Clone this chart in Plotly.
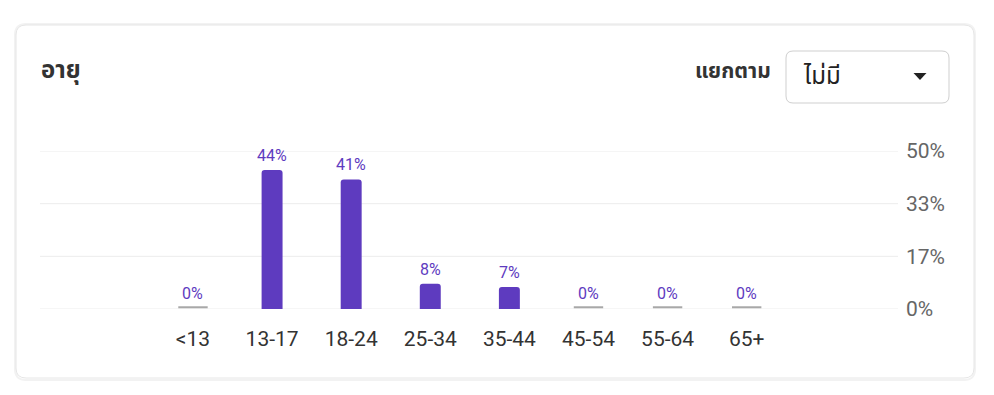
import plotly.graph_objects as go

categories = ["<13", "13-17", "18-24", "25-34", "35-44", "45-54", "55-64", "65+"]
values = [0, 44, 41, 8, 7, 0, 0, 0]
value_labels = ["0%", "44%", "41%", "8%", "7%", "0%", "0%", "0%"]
y_tick_vals = [0, 50 / 3, 100 / 3, 50]
y_tick_text = ["0%", "17%", "33%", "50%"]
title_text = "อายุ"
breakdown_label = "แยกตาม"
dropdown_text = "ไม่มี"

W, H = 994, 395
PURPLE = "#5e3bbf"
FONT = "Roboto, 'Noto Sans Thai', 'Noto Sans', sans-serif"


def px(x):
    return x / W


def py(y):
    return 1 - y / H


def rounded_rect(x0, y0, x1, y1, r):
    rx, ry = r / W, r / H
    X0, X1 = px(x0), px(x1)
    Y0, Y1 = py(y0), py(y1)
    return (
        f"M {X0+rx},{Y0} L {X1-rx},{Y0} Q {X1},{Y0} {X1},{Y0-ry} "
        f"L {X1},{Y1+ry} Q {X1},{Y1} {X1-rx},{Y1} "
        f"L {X0+rx},{Y1} Q {X0},{Y1} {X0},{Y1+ry} "
        f"L {X0},{Y0-ry} Q {X0},{Y0} {X0+rx},{Y0} Z"
    )


xs = list(range(len(categories)))
bar_vals = [v if v > 0 else None for v in values]
zero_x = [i for i, v in zip(xs, values) if v == 0]
zero_y = [0.55 for i in zero_x]

fig = go.Figure()
fig.add_trace(go.Bar(
    x=xs, y=bar_vals, width=0.265,
    marker=dict(color=PURPLE, line=dict(width=0), cornerradius=3),
    hoverinfo="skip",
))
fig.add_trace(go.Scatter(
    x=zero_x, y=zero_y, mode="markers",
    marker=dict(symbol="line-ew", size=21, line=dict(color="#a8a8a8", width=2)),
    hoverinfo="skip", cliponaxis=False,
))

annotations = []
for i, v, t in zip(xs, values, value_labels):
    annotations.append(dict(
        x=i, y=v, xref="x", yref="y", text=t, showarrow=False,
        yanchor="bottom", yshift=3 if v > 0 else 4,
        font=dict(family=FONT, size=16, color=PURPLE),
    ))

annotations += [
    dict(x=px(39), y=py(70), xref="paper", yref="paper", text=f"<b>{title_text}</b>",
         showarrow=False, xanchor="left", yanchor="middle",
         font=dict(family=FONT, size=24, color="#333333")),
    dict(x=px(773), y=py(71), xref="paper", yref="paper", text=f"<b>{breakdown_label}</b>",
         showarrow=False, xanchor="right", yanchor="middle",
         font=dict(family=FONT, size=21, color="#333333")),
    dict(x=px(801), y=py(76), xref="paper", yref="paper", text=dropdown_text,
         showarrow=False, xanchor="left", yanchor="middle",
         font=dict(family=FONT, size=24, color="#222222")),
]

shapes = [
    dict(type="path", xref="paper", yref="paper", layer="below",
         path=rounded_rect(15, 24, 975, 380, 11),
         line=dict(color="#f2f2f2", width=2), fillcolor="rgba(0,0,0,0)"),
    dict(type="path", xref="paper", yref="paper", layer="below",
         path=rounded_rect(16, 25, 974, 378, 10),
         line=dict(color="#e6e6e6", width=1), fillcolor="white"),
    dict(type="path", xref="paper", yref="paper", layer="below",
         path=rounded_rect(786, 51, 949, 103, 7),
         line=dict(color="#cfcfcf", width=1), fillcolor="white"),
    dict(type="path", xref="paper", yref="paper",
         path=f"M {px(913.5)},{py(73)} L {px(926.5)},{py(73)} L {px(920)},{py(80)} Z",
         line=dict(width=0), fillcolor="#222222"),
]
for tv in y_tick_vals:
    shapes.append(dict(type="line", xref="x domain", yref="y", layer="below",
                       x0=0, x1=1, y0=tv, y1=tv,
                       line=dict(color="#ececec", width=1)))

fig.update_layout(
    width=W, height=H,
    margin=dict(l=0, r=0, t=0, b=0, pad=0, autoexpand=False),
    paper_bgcolor="white", plot_bgcolor="rgba(0,0,0,0)",
    showlegend=False,
    font=dict(family=FONT),
    annotations=annotations,
    shapes=shapes,
    xaxis=dict(
        domain=[px(40), px(898)],
        range=[-1.934, 8.913],
        tickvals=xs, ticktext=categories,
        showgrid=False, zeroline=False, showline=False,
        ticks="", ticklabelstandoff=15, automargin=False,
        tickfont=dict(family=FONT, size=21, color="#333333"),
        fixedrange=True,
    ),
    yaxis=dict(
        domain=[py(309), py(151)],
        range=[0, 50],
        side="right",
        tickvals=y_tick_vals, ticktext=y_tick_text,
        showgrid=False,
        zeroline=False, showline=False, ticks="",
        ticklabelstandoff=7, automargin=False,
        tickfont=dict(family=FONT, size=21, color="#666666"),
        fixedrange=True,
    ),
)

fig.write_html("out.html", config={"displayModeBar": False})
